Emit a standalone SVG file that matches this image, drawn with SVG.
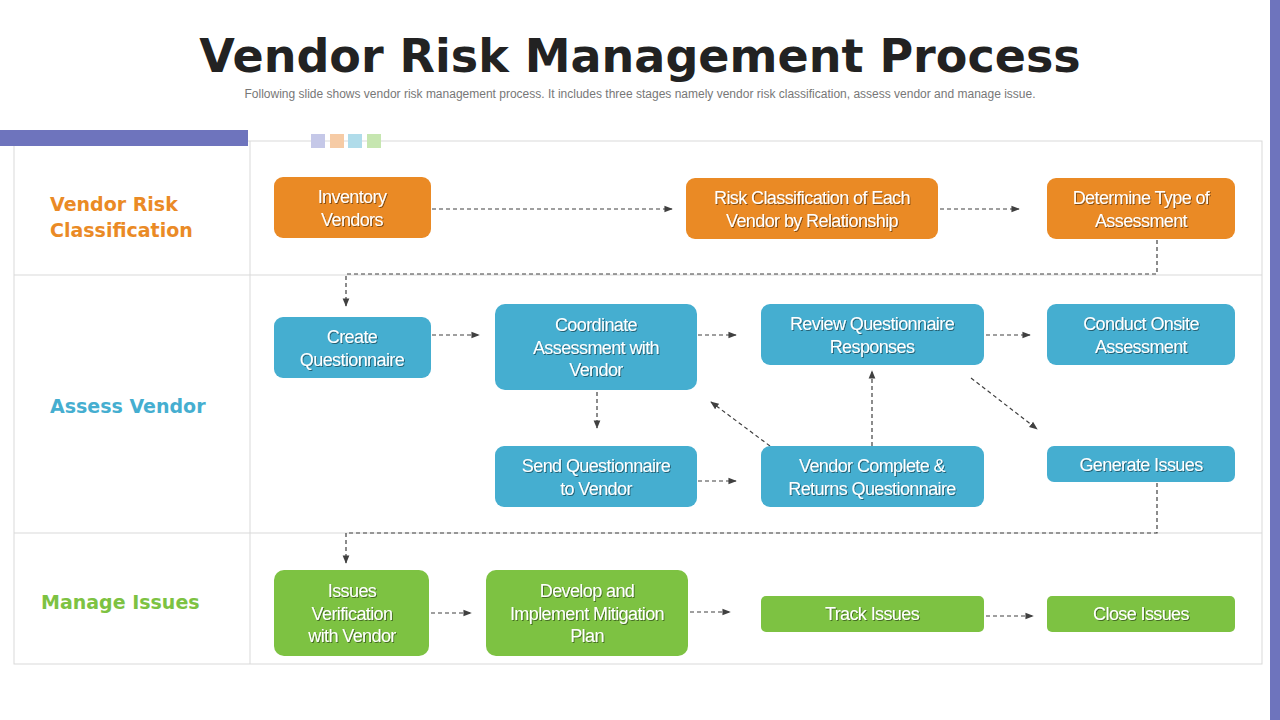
<svg xmlns="http://www.w3.org/2000/svg" width="1280" height="720" viewBox="0 0 1280 720">
<defs>
<marker id="ah" viewBox="0 0 10 10" refX="9" refY="5" markerWidth="7" markerHeight="7" orient="auto"><path d="M0,1 L10,5 L0,9 z" fill="#404040"/></marker>
<filter id="sh" x="-5%" y="-5%" width="110%" height="120%"><feDropShadow dx="1" dy="1" stdDeviation="0.6" flood-color="#000" flood-opacity="0.45"/></filter>
</defs>
<style>
.o{fill:#ea8a25}.b{fill:#45aed0}.g{fill:#7dc242}
.t{font-family:"Liberation Sans",Arial,sans-serif;font-size:18px;fill:#fff;text-anchor:middle;letter-spacing:-0.6px;filter:url(#sh)}
.lab{font-family:"DejaVu Sans",sans-serif;font-size:19px;font-weight:bold}
.grid{stroke:#d9d9d9;stroke-width:1;fill:none}
.c{stroke:#404040;stroke-width:1.2;stroke-dasharray:4,3;fill:none;marker-end:url(#ah)}
</style>
<rect width="1280" height="720" fill="#fff"/>
<rect x="1270" y="0" width="10" height="720" fill="#6e74bd"/>
<text x="640" y="72" text-anchor="middle" font-family="DejaVu Sans,sans-serif" font-weight="bold" font-size="46" fill="#222">Vendor Risk Management Process</text>
<text x="640" y="98" text-anchor="middle" font-family="Liberation Sans,Arial,sans-serif" font-size="12" fill="#777">Following slide shows vendor risk management process. It includes three stages namely vendor risk classification, assess vendor and manage issue.</text>
<g id="grid">
<rect class="grid" x="14" y="141" width="1248" height="523"/>
<line class="grid" x1="250" y1="141" x2="250" y2="664"/>
<line class="grid" x1="14" y1="275" x2="1262" y2="275"/>
<line class="grid" x1="14" y1="533" x2="1262" y2="533"/>
<rect x="0" y="130" width="248" height="16" fill="#6e74bd"/>
<rect x="311" y="134" width="14" height="14" fill="#c5c8e8"/>
<rect x="330" y="134" width="14" height="14" fill="#f6cba5"/>
<rect x="348" y="134" width="14" height="14" fill="#b0dcea"/>
<rect x="367" y="134" width="14" height="14" fill="#c6e6b0"/>
</g>
<g id="labels">
<text class="lab" x="50" y="211" fill="#ea8a25">Vendor Risk</text>
<text class="lab" x="50" y="237" fill="#ea8a25">Classification</text>
<text class="lab" x="50" y="413" fill="#45aed0">Assess Vendor</text>
<text class="lab" x="41" y="609" fill="#7dc242">Manage Issues</text>
</g>
<g id="connectors">
<path class="c" d="M432,209 H672"/>
<path class="c" d="M940,209 H1019"/>
<path class="c" d="M1157,240 V274 H346 V306"/>
<path class="c" d="M432,335 H479"/>
<path class="c" d="M698,335 H736"/>
<path class="c" d="M986,335 H1030"/>
<path class="c" d="M597,392 V428"/>
<path class="c" d="M698,481 H736"/>
<path class="c" d="M770,446 L711,402"/>
<path class="c" d="M872,446 V371"/>
<path class="c" d="M971,378 L1037,429"/>
<path class="c" d="M1157,483 V533 H346 V563"/>
<path class="c" d="M431,613 H471"/>
<path class="c" d="M690,612 H730"/>
<path class="c" d="M986,616 H1033"/>
</g>
<g id="n1"><rect class="o" x="274" y="177" width="157" height="61" rx="9"/><text class="t" x="352" y="203">Inventory</text><text class="t" x="352" y="226">Vendors</text></g>
<g id="n2"><rect class="o" x="686" y="178" width="252" height="61" rx="9"/><text class="t" x="812" y="204">Risk Classification of Each</text><text class="t" x="812" y="227">Vendor by Relationship</text></g>
<g id="n3"><rect class="o" x="1047" y="178" width="188" height="61" rx="9"/><text class="t" x="1141" y="204">Determine Type of</text><text class="t" x="1141" y="227">Assessment</text></g>
<g id="n4"><rect class="b" x="274" y="317" width="157" height="61" rx="9"/><text class="t" x="352" y="343">Create</text><text class="t" x="352" y="366">Questionnaire</text></g>
<g id="n5"><rect class="b" x="495" y="304" width="202" height="86" rx="10"/><text class="t" x="596" y="331">Coordinate</text><text class="t" x="596" y="354">Assessment with</text><text class="t" x="596" y="376">Vendor</text></g>
<g id="n6"><rect class="b" x="761" y="304" width="223" height="61" rx="9"/><text class="t" x="872" y="330">Review Questionnaire</text><text class="t" x="872" y="353">Responses</text></g>
<g id="n7"><rect class="b" x="1047" y="304" width="188" height="61" rx="9"/><text class="t" x="1141" y="330">Conduct Onsite</text><text class="t" x="1141" y="353">Assessment</text></g>
<g id="n8"><rect class="b" x="495" y="446" width="202" height="61" rx="9"/><text class="t" x="596" y="472">Send Questionnaire</text><text class="t" x="596" y="495">to Vendor</text></g>
<g id="n9"><rect class="b" x="761" y="446" width="223" height="61" rx="9"/><text class="t" x="872" y="472">Vendor Complete &amp;</text><text class="t" x="872" y="495">Returns Questionnaire</text></g>
<g id="n10"><rect class="b" x="1047" y="446" width="188" height="36" rx="7"/><text class="t" x="1141" y="471">Generate Issues</text></g>
<g id="n11"><rect class="g" x="274" y="570" width="155" height="86" rx="10"/><text class="t" x="352" y="597">Issues</text><text class="t" x="352" y="620">Verification</text><text class="t" x="352" y="642">with Vendor</text></g>
<g id="n12"><rect class="g" x="486" y="570" width="202" height="86" rx="10"/><text class="t" x="587" y="597">Develop and</text><text class="t" x="587" y="620">Implement Mitigation</text><text class="t" x="587" y="642">Plan</text></g>
<g id="n13"><rect class="g" x="761" y="596" width="223" height="36" rx="5"/><text class="t" x="872" y="620">Track Issues</text></g>
<g id="n14"><rect class="g" x="1047" y="596" width="188" height="36" rx="5"/><text class="t" x="1141" y="620">Close Issues</text></g>
</svg>
